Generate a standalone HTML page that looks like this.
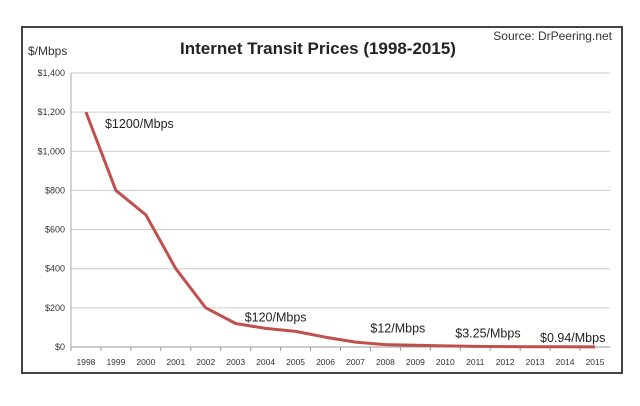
<!DOCTYPE html>
<html><head><meta charset="utf-8"><style>
body{margin:0;background:#fff;width:640px;height:406px;overflow:hidden}
svg{display:block;font-family:"Liberation Sans",sans-serif}
</style></head><body>
<svg id="c" width="640" height="406">
<rect x="22" y="27" width="600" height="346" fill="#fff" stroke="#444" stroke-width="2"/>
<text x="318" y="54" text-anchor="middle" font-size="17" font-weight="bold" fill="#222">Internet Transit Prices (1998-2015)</text>
<text x="612" y="40" text-anchor="end" font-size="12" fill="#333">Source: DrPeering.net</text>
<text x="28" y="55" font-size="12" fill="#333">$/Mbps</text>
<g id="grid"></g><g id="ax"></g><g id="marks"></g>
</svg>
<script>
const years=["1998","1999","2000","2001","2002","2003","2004","2005","2006","2007","2008","2009","2010","2011","2012","2013","2014","2015"];
const prices=[1200,800,675,400,200,120,95,80,50,25,12,9,6,3.25,2,1.5,1.2,0.94];
const yTicks=[0,200,400,600,800,1000,1200,1400];
const yTickLabels=["$0","$200","$400","$600","$800","$1,000","$1,200","$1,400"];
const annotationIdx=[0,5,10,13,17];
const annotationText=["$1200/Mbps","$120/Mbps","$12/Mbps","$3.25/Mbps","$0.94/Mbps"];
const NS="http://www.w3.org/2000/svg";
const X0=71,X1=610,Y0=347,Y1=73;
const labelOffsets=[[19,16],[9,-2],[-15,-12],[-20,-9],[-55,-5]];
const step=(X1-X0)/years.length;
const x=i=>X0+step*(i+0.5);
const y=v=>Y0-(v/1400)*(Y0-Y1);
function mk(t,a,p){const e=document.createElementNS(NS,t);for(const k in a)e.setAttribute(k,a[k]);p.appendChild(e);return e;}
const g=document.getElementById('grid'),ax=document.getElementById('ax'),m=document.getElementById('marks');
yTicks.forEach((v,i)=>{
 const l=mk('line',{x1:X0,x2:X1,y1:y(v),y2:y(v),stroke:v?'#ccc':'#999','stroke-width':1},g);
 
 
 const t=mk('text',{x:X0-6,y:y(v)+3,'text-anchor':'end','font-size':9,fill:'#333'},ax);
 t.textContent=yTickLabels[i];
 
 
});
mk('line',{x1:X0,x2:X0,y1:Y1,y2:Y0,stroke:'#aaa'},ax);
years.forEach((yr,i)=>{
 mk('line',{x1:X0+step*i,x2:X0+step*i,y1:Y0,y2:Y0+4,stroke:'#999'},ax);
 const t=mk('text',{x:x(i),y:Y0+18,'text-anchor':'middle','font-size':8.5,fill:'#333'},ax);
 t.textContent=yr;
 
 
});
const p=mk('polyline',{points:prices.map((v,i)=>x(i)+','+y(v)).join(' '),fill:'none',stroke:'#c0504d','stroke-width':3,'stroke-linejoin':'round'},m);


annotationIdx.forEach((i,k)=>{
 const [dx,dy]=labelOffsets[k];
 const t=mk('text',{x:x(i)+dx,y:y(prices[i])+dy,'font-size':12.5,fill:'#222'},m);
 t.textContent=annotationText[k];
 
 
});
</script>
</body></html>
